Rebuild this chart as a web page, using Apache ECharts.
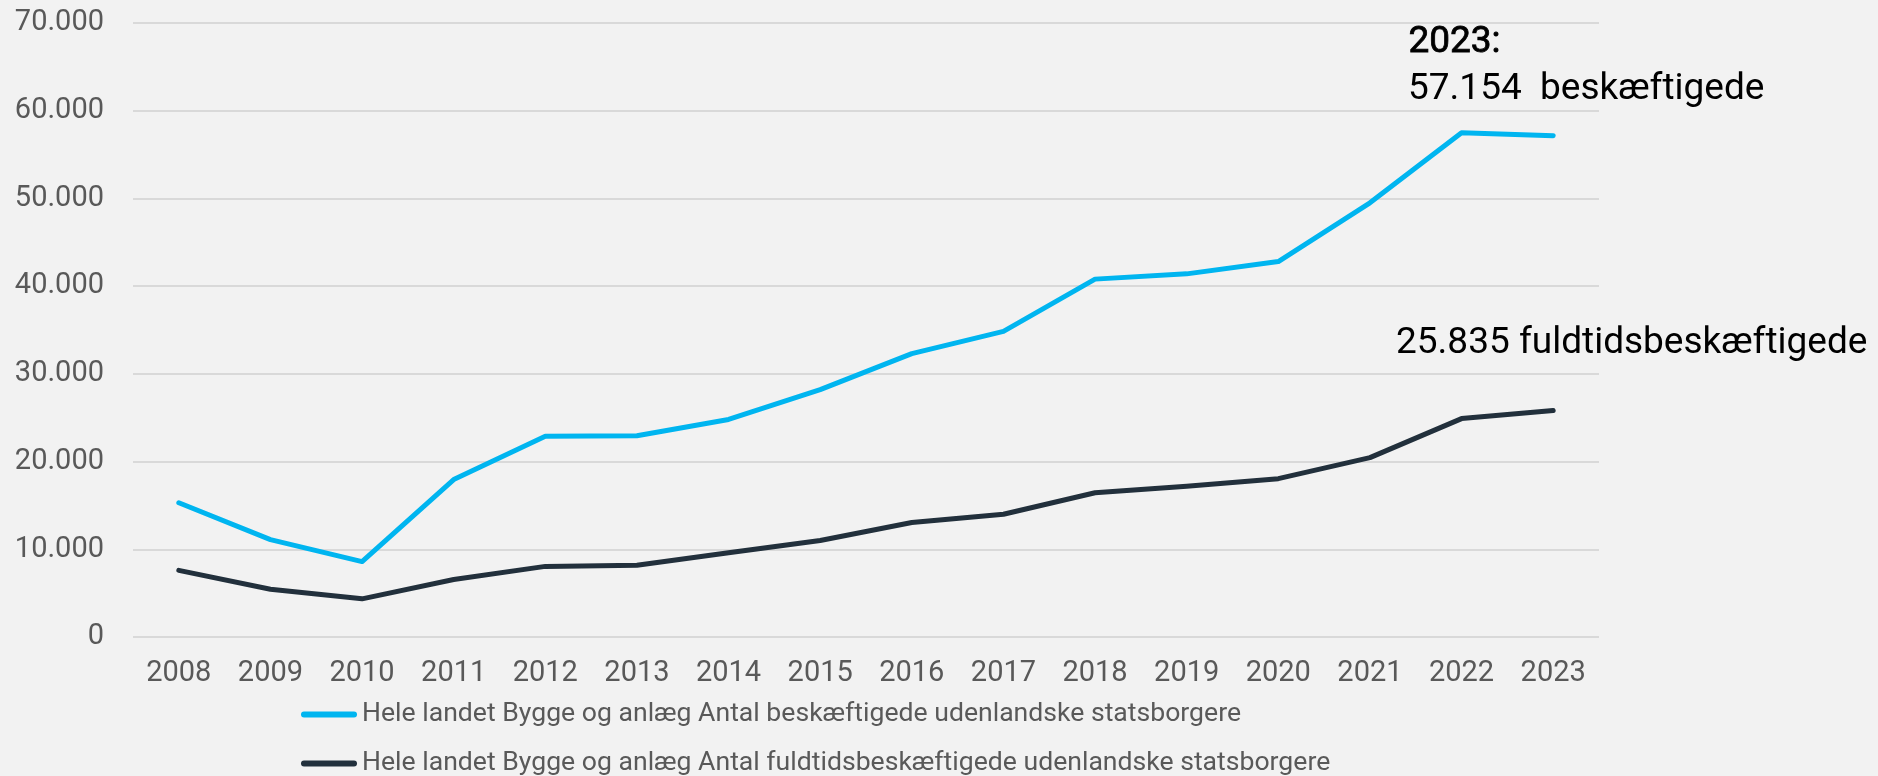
<!DOCTYPE html>
<html>
<head>
<meta charset="utf-8">
<script src="https://cdn.jsdelivr.net/npm/echarts@6/dist/echarts.min.js"></script>
<style>
  html, body { margin: 0; padding: 0; background: #f2f2f2; }
  #chart { width: 1878px; height: 776px; }
</style>
</head>
<body>
<div id="chart"></div>
<script>
// år og værdier
var years = ['2008','2009','2010','2011','2012','2013','2014','2015','2016','2017','2018','2019','2020','2021','2022','2023'];
var beskaeftigede = [15300, 11100, 8600, 17950, 22900, 22950, 24800, 28200, 32300, 34850, 40800, 41400, 42800, 49500, 57500, 57154];
var fuldtid = [7600, 5450, 4350, 6550, 8050, 8180, 9600, 11000, 13050, 14000, 16450, 17200, 18050, 20450, 24900, 25835];
var seriesNames = [
  'Hele landet Bygge og anlæg Antal beskæftigede udenlandske statsborgere',
  'Hele landet Bygge og anlæg Antal fuldtidsbeskæftigede udenlandske statsborgere'
];

var chart = echarts.init(document.getElementById('chart'));

// dansk tusindtalsseparator
function fmt(v) {
  return String(v).replace(/\B(?=(\d{3})+(?!\d))/g, '.');
}

var option = {
  backgroundColor: '#f2f2f2',
  animation: false,
  textStyle: { fontFamily: 'Roboto' },
  grid: { left: 133, right: 279, top: 23, bottom: 139 },
  legend: {
    orient: 'vertical',
    left: 301,
    top: 701,
    height: 90,
    padding: 0,
    itemWidth: 56,
    itemHeight: 6,
    itemGap: 22,
    itemTextGap: 3,
    icon: 'path://M3,0 L53,0 A3,3 0 0 1 53,6 L3,6 A3,3 0 0 1 3,0 Z',
    textStyle: { color: '#595959', fontSize: 26.6, lineHeight: 26, fontFamily: 'Roboto' },
    data: seriesNames
  },
  xAxis: {
    type: 'category',
    data: years,
    boundaryGap: true,
    axisLine: { show: false },
    axisTick: { show: false },
    axisLabel: { color: '#595959', fontSize: 29, margin: 22, fontFamily: 'Roboto' }
  },
  yAxis: {
    type: 'value',
    min: 0,
    max: 70000,
    interval: 10000,
    axisLine: { show: false },
    axisTick: { show: false },
    axisLabel: { color: '#595959', fontSize: 29, margin: 29, fontFamily: 'Roboto', formatter: fmt },
    splitLine: { lineStyle: { color: '#d9d9d9', width: 2 } }
  },
  series: [
    {
      name: seriesNames[0],
      type: 'line',
      data: beskaeftigede,
      symbol: 'none',
      lineStyle: { color: '#00b5f0', width: 5, cap: 'round', join: 'round' },
      itemStyle: { color: '#00b5f0' }
    },
    {
      name: seriesNames[1],
      type: 'line',
      data: fuldtid,
      symbol: 'none',
      lineStyle: { color: '#22303c', width: 5, cap: 'round', join: 'round' },
      itemStyle: { color: '#22303c' }
    }
  ],
  graphic: [
    {
      type: 'text', left: 1408, top: 24,
      style: { text: '2023:', font: '37px Roboto', fill: '#000', stroke: '#000', lineWidth: 0.8 }
    },
    {
      type: 'text', left: 1408, top: 71,
      style: { text: fmt(57154) + '  beskæftigede', font: '37px Roboto', fill: '#000' }
    },
    {
      type: 'text', left: 1396, top: 325,
      style: { text: fmt(25835) + ' fuldtidsbeskæftigede', font: '37px Roboto', fill: '#000' }
    }
  ]
};

chart.setOption(option);
</script>
</body>
</html>
